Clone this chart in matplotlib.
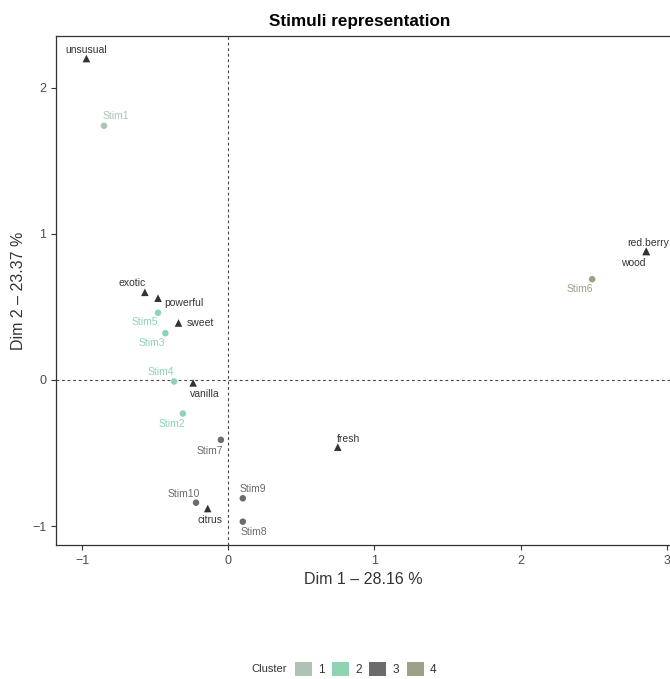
import matplotlib
matplotlib.use("Agg")
import matplotlib.pyplot as plt
from matplotlib.patches import Patch

plt.rcParams['font.family'] = ['Liberation Sans', 'DejaVu Sans']

# stimuli (points, coloured by cluster)
stim_names = ['Stim1', 'Stim2', 'Stim3', 'Stim4', 'Stim5',
              'Stim6', 'Stim7', 'Stim8', 'Stim9', 'Stim10']
stim_x = [-0.85, -0.31, -0.43, -0.37, -0.48, 2.49, -0.05, 0.10, 0.10, -0.22]
stim_y = [1.74, -0.23, 0.32, -0.01, 0.46, 0.69, -0.41, -0.97, -0.81, -0.84]
stim_cluster = [1, 2, 2, 2, 2, 4, 3, 3, 3, 3]

# attributes (triangles)
attr_names = ['unsusual', 'exotic', 'powerful', 'sweet', 'vanilla',
              'fresh', 'citrus', 'red.berry', 'wood']
attr_x = [-0.97, -0.57, -0.48, -0.34, -0.24, 0.75, -0.14, 2.86, 2.86]
attr_y = [2.20, 0.60, 0.56, 0.39, -0.02, -0.46, -0.88, 0.88, 0.88]

cluster_ids = [1, 2, 3, 4]
cluster_colors = {1: '#afc3b3', 2: '#8ed3b2', 3: '#6b6b6b', 4: '#a09f87'}

# label offsets in pixels (repel-like placement)
stim_off = [(12, 10), (-11, -10), (-14, -10), (-13, 9), (-13, -9),
            (-12, -10), (-11, -11), (11, -10), (10, 9), (-12, 9)]
attr_off = [(0, 9), (-13, 9), (26, -5), (22, 0), (12, -11),
            (11, 8), (2, -11), (2, 8), (-13, -12)]

fig = plt.figure(figsize=(6.7, 6.79), dpi=100)
ax = fig.add_axes([0.0836, 0.1973, 0.918, 0.750])

ax.axhline(0, color='#444444', lw=0.8, ls=(0, (2.5, 2.5)), zorder=1)
ax.axvline(0, color='#444444', lw=0.8, ls=(0, (2.5, 2.5)), zorder=1)

for n, x, y, c, off in zip(stim_names, stim_x, stim_y, stim_cluster, stim_off):
    col = cluster_colors[c]
    ax.scatter(x, y, s=22, color=col, marker='o', edgecolors='none', zorder=3)
    ax.annotate(n, (x, y), xytext=off, textcoords='offset pixels',
                ha='center', va='center', fontsize=7.5, color=col)

for n, x, y, off in zip(attr_names, attr_x, attr_y, attr_off):
    ax.scatter(x, y, s=30, color='#333333', marker='^', edgecolors='none', zorder=3)
    ax.annotate(n, (x, y), xytext=off, textcoords='offset pixels',
                ha='center', va='center', fontsize=7.5, color='#333333')

ax.set_xlim(-1.178, 3.03)
ax.set_ylim(-1.13, 2.356)
ax.set_xticks([-1, 0, 1, 2, 3])
ax.set_yticks([-1, 0, 1, 2])
ax.set_xticklabels(['\u22121', '0', '1', '2', '3'])
ax.set_yticklabels(['\u22121', '0', '1', '2'])
ax.tick_params(length=3.5, width=0.8, color='#333333', labelcolor='#4d4d4d',
               labelsize=9)
for s in ax.spines.values():
    s.set_color('#333333')
    s.set_linewidth(0.9)

ax.set_xlabel('Dim 1 \u2013 28.16 %', fontsize=11.5, color='#333333')
ax.set_ylabel('Dim 2 \u2013 23.37 %', fontsize=11.5, color='#333333')
ax.set_title('Stimuli representation', fontsize=12.3, fontweight='bold', pad=7)
ax.title.set_x(0.4935)

# legend at bottom
handles = [Patch(facecolor=cluster_colors[c], edgecolor='none', label=str(c))
           for c in cluster_ids]
fig.legend(handles=handles, ncol=4, loc='center', bbox_to_anchor=(0.546, 0.0145),
           frameon=False, fontsize=8.5, handlelength=1.45, handleheight=1.45,
           handletextpad=0.55, columnspacing=0.6, labelcolor='#333333')
fig.text(0.402, 0.0145, 'Cluster', fontsize=8, color='#333333', ha='center', va='center')

fig.savefig('out.png', dpi=100)
